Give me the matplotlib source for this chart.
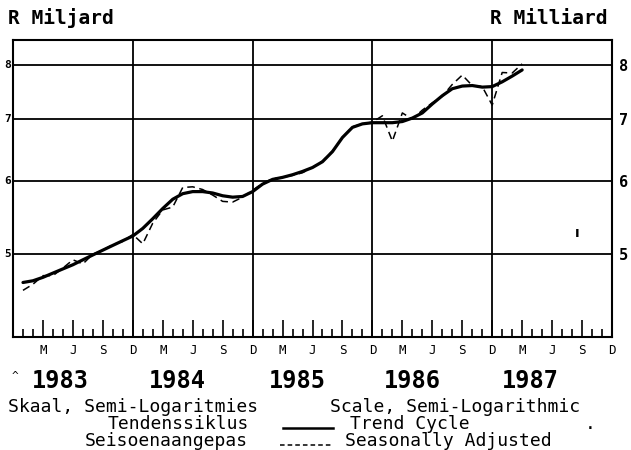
import numpy as np
import matplotlib.pyplot as plt
from matplotlib.lines import Line2D

# monthly points, Jan 1983 (1) .. Mar 1987 (51)
months = np.arange(1, 52)
trend = [4.66, 4.68, 4.72, 4.77, 4.82, 4.87, 4.93, 4.99, 5.05, 5.11, 5.17, 5.23,
         5.33, 5.46, 5.60, 5.73, 5.81, 5.84, 5.84, 5.82, 5.78, 5.76, 5.77, 5.84,
         5.95, 6.02, 6.05, 6.09, 6.14, 6.20, 6.29, 6.45, 6.68, 6.85, 6.91, 6.93,
         6.93, 6.93, 6.95, 7.01, 7.10, 7.26, 7.41, 7.54, 7.59, 7.60, 7.57, 7.58,
         7.67, 7.78, 7.90]
seas_adj = [4.57, 4.64, 4.74, 4.74, 4.83, 4.93, 4.88, 5.00, 5.05, 5.12, 5.16, 5.25,
            5.13, 5.40, 5.58, 5.62, 5.90, 5.91, 5.87, 5.79, 5.70, 5.69, 5.76, 5.86,
            5.96, 6.03, 6.05, 6.08, 6.12, 6.20, 6.30, 6.46, 6.68, 6.86, 6.91, 6.94,
            7.05, 6.62, 7.10, 6.99, 7.15, 7.28, 7.40, 7.62, 7.80, 7.60, 7.58, 7.24,
            7.85, 7.84, 8.02]

y_levels = [5, 6, 7, 8]
year_ends = [12, 24, 36, 48]
quarter_pos = list(range(3, 61, 3))
quarter_lbl = ['M', 'J', 'S', 'D'] * 5
years = ['1983', '1984', '1985', '1986', '1987']
year_pos = [4.7, 16.5, 28.5, 40.0, 51.8]

mono = 'DejaVu Sans Mono'
W, H = 631, 450

fig = plt.figure(figsize=(W / 100, H / 100), dpi=100)
ax = fig.add_axes([13 / W, 1 - 337 / H, (612 - 13) / W, (337 - 40) / H])

ax.set_yscale('log')
ax.set_xlim(0, 60)
ax.set_ylim(4.07, 8.51)

for v in y_levels:
    ax.axhline(v, color='k', lw=1.3, zorder=1)
for m in year_ends:
    ax.axvline(m, color='k', lw=1.3, zorder=1)

ax.plot(months, trend, color='k', lw=2.3, solid_capstyle='round', zorder=3)
ax.plot(months, seas_adj, color='k', lw=1.1, ls=(0, (5, 3)), zorder=2)

for s in ax.spines.values():
    s.set_linewidth(1.5)

# y axis: labels on the right, small ones squeezed in on the left
ax.set_yticks(y_levels)
ax.set_yticklabels([str(v) for v in y_levels])
ax.yaxis.set_minor_locator(plt.NullLocator())
ax.tick_params(axis='y', length=0, labelleft=False, labelright=True, pad=5,
               labelsize=11)
for t in ax.get_yticklabels():
    t.set_fontweight('bold')
    t.set_family(mono)
for v in y_levels:
    ax.text(-0.004, v, str(v), transform=ax.get_yaxis_transform(), ha='right',
            va='center', fontsize=8, fontweight='bold', family=mono)

# x axis: quarterly tall ticks with letters, monthly short ticks
ax.set_xticks(quarter_pos)
ax.set_xticklabels(quarter_lbl, family=mono, fontsize=9)
ax.set_xticks(range(1, 60), minor=True)
ax.tick_params(axis='x', which='major', direction='in', length=12, width=1.2, pad=5)
ax.tick_params(axis='x', which='minor', direction='in', length=6, width=1.2)

for yr, xp in zip(years, year_pos):
    ax.text(xp, -0.148, yr, transform=ax.get_xaxis_transform(), ha='center',
            va='center', fontsize=17, fontweight='bold', family=mono)

# stray mark
ax.text(56.5, 5.27, 'ı', ha='center', va='center', fontsize=10, fontweight='bold')

def ftext(x, y, s, **kw):
    fig.text(x / W, 1 - y / H, s, family=mono, va='center', **kw)

ftext(8, 18, 'R Miljard', fontsize=14, fontweight='bold')
ftext(607, 18, 'R Milliard', fontsize=14, fontweight='bold', ha='right')
ftext(12, 376, '^', fontsize=8)

ftext(8, 407, 'Skaal, Semi-Logaritmies', fontsize=13)
ftext(330, 407, 'Scale, Semi-Logarithmic', fontsize=13)
ftext(108, 424, 'Tendenssiklus', fontsize=13)
ftext(350, 424, 'Trend Cycle', fontsize=13)
ftext(585, 424, '.', fontsize=13)
ftext(85, 441, 'Seisoenaangepas', fontsize=13)
ftext(345, 441, 'Seasonally Adjusted', fontsize=13)

fig.add_artist(Line2D([283 / W, 333 / W], [1 - 428 / H, 1 - 428 / H],
                      color='k', lw=1.8))
fig.add_artist(Line2D([280 / W, 333 / W], [1 - 445 / H, 1 - 445 / H],
                      color='k', lw=1.1, ls=(0, (3, 2))))

fig.savefig('out.png', dpi=100)
